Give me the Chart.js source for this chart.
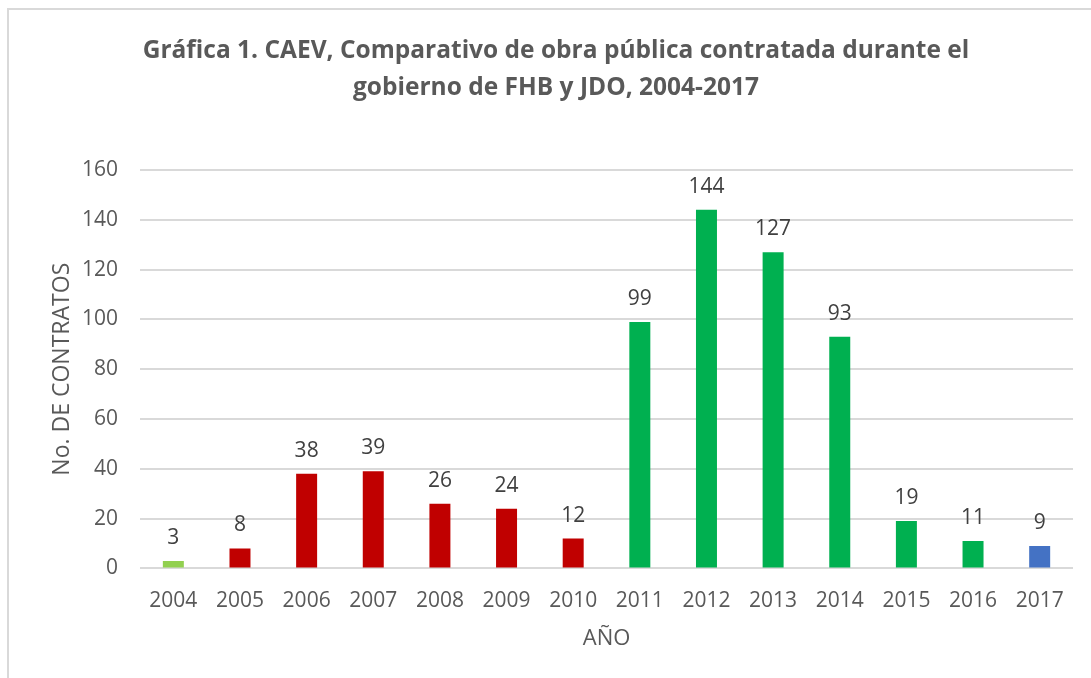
<!DOCTYPE html>
<html>
<head>
<meta charset="utf-8">
<script src="https://cdn.jsdelivr.net/npm/chart.js@4/dist/chart.umd.min.js"></script>
<style>
  html, body { margin: 0; padding: 0; background: #fff; }
  #wrap { position: relative; width: 1091px; height: 678px; overflow: hidden; }
  #frame { position: absolute; left: 7px; top: 8px; width: 1200px; height: 800px; border: 2px solid #d9d9d9; box-sizing: border-box; }
  canvas { position: absolute; left: 0; top: 0; }
</style>
</head>
<body>
<div id="wrap">
  <div id="frame"></div>
  <canvas id="chart" width="1091" height="678"></canvas>
</div>
<script>
const years = ['2004', '2005', '2006', '2007', '2008', '2009', '2010', '2011', '2012', '2013', '2014', '2015', '2016', '2017'];
const contratos = [3, 8, 38, 39, 26, 24, 12, 99, 144, 127, 93, 19, 11, 9];
const barColors = ['#92d050', '#c00000', '#c00000', '#c00000', '#c00000', '#c00000', '#c00000',
  '#00b050', '#00b050', '#00b050', '#00b050', '#00b050', '#00b050', '#4472c4'];
const titleLines = ['Gráfica 1. CAEV, Comparativo de obra pública contratada durante el', 'gobierno de FHB y JDO, 2004-2017'];
const yTitle = 'No. DE CONTRATOS';

const FONT = "'Open Sans', 'Liberation Sans', sans-serif";

// title, value labels above each bar and the rotated y axis title
const extraText = {
  id: 'extraText',
  afterDatasetsDraw(chart) {
    const ctx = chart.ctx;
    const meta = chart.getDatasetMeta(0);
    ctx.save();
    ctx.font = '21px ' + FONT;
    ctx.fillStyle = '#404040';
    ctx.textAlign = 'center';
    ctx.textBaseline = 'middle';
    meta.data.forEach((bar, i) => {
      ctx.fillText(String(contratos[i]), bar.x, bar.y - 23);
    });
    ctx.restore();

    ctx.save();
    ctx.font = 'bold 24.5px ' + FONT;
    ctx.fillStyle = '#595959';
    ctx.textAlign = 'center';
    ctx.textBaseline = 'middle';
    ctx.fillText(titleLines[0], 556, 51);
    ctx.fillText(titleLines[1], 556, 88);
    ctx.restore();

    const area = chart.chartArea;
    ctx.save();
    ctx.translate(62, (area.top + area.bottom) / 2);
    ctx.rotate(-Math.PI / 2);
    ctx.font = '23px ' + FONT;
    ctx.fillStyle = '#595959';
    ctx.textAlign = 'center';
    ctx.textBaseline = 'middle';
    ctx.fillText(yTitle, 0, 0);
    ctx.restore();
  }
};

new Chart(document.getElementById('chart'), {
  type: 'bar',
  data: {
    labels: years,
    datasets: [{
      data: contratos,
      backgroundColor: barColors,
      borderWidth: 0,
      barPercentage: 0.315,
      categoryPercentage: 1
    }]
  },
  options: {
    responsive: false,
    animation: false,
    layout: { padding: { left: 60, right: 18, top: 170, bottom: 22 } },
    plugins: {
      legend: { display: false },
      tooltip: { enabled: false },
      title: { display: false }
    },
    scales: {
      x: {
        grid: { display: false },
        border: { display: false },
        ticks: { color: '#595959', font: { family: FONT, size: 21 }, padding: 12 },
        title: { display: true, text: 'AÑO', color: '#595959', font: { family: FONT, size: 22 }, padding: { top: 0, bottom: 4 } }
      },
      y: {
        min: 0,
        max: 160,
        ticks: { stepSize: 20, color: '#595959', font: { family: FONT, size: 21 }, padding: 22 },
        grid: { color: '#d9d9d9', lineWidth: 2, drawTicks: false },
        border: { display: false }
      }
    }
  },
  plugins: [extraText]
});
</script>
</body>
</html>
